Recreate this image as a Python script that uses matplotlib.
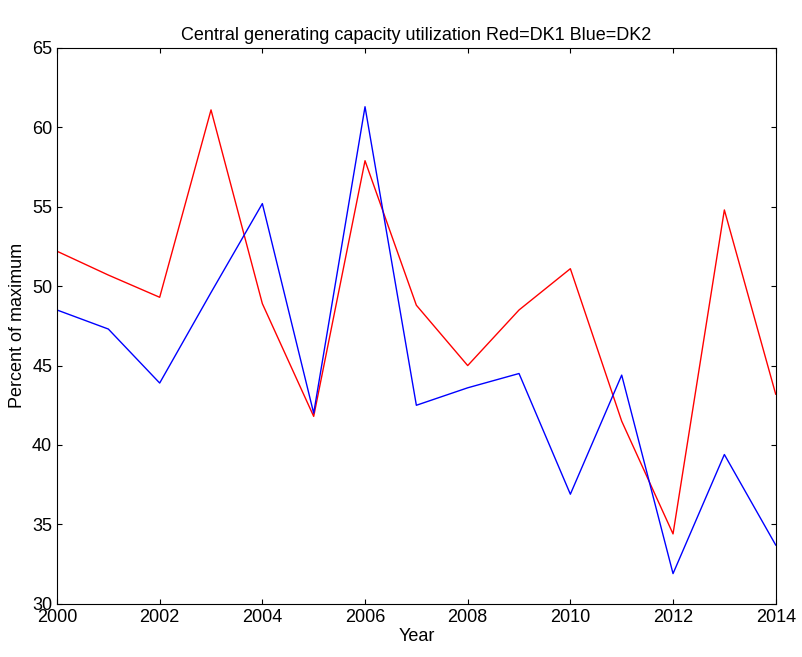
import matplotlib
matplotlib.use('Agg')
import matplotlib.pyplot as plt

years = list(range(2000, 2015))
dk1 = [52.2, 50.7, 49.3, 61.1, 48.9, 41.8, 57.9, 48.8, 45.0, 48.5, 51.1, 41.5, 34.4, 54.8, 43.2]
dk2 = [48.5, 47.3, 43.9, 49.6, 55.2, 42.0, 61.3, 42.5, 43.6, 44.5, 36.9, 44.4, 31.9, 39.4, 33.7]

plt.rcParams['font.family'] = ['Liberation Sans', 'DejaVu Sans']
fig = plt.figure(figsize=(8.03, 6.57), dpi=100)
ax = fig.add_axes([0.071, 0.081, 0.895, 0.846])
ax.plot(years, dk1, color='red', lw=1)
ax.plot(years, dk2, color='blue', lw=1)
ax.set_xlim(2000, 2014)
ax.set_ylim(30, 65)
ax.set_xticks(range(2000, 2015, 2))
ax.set_yticks(range(30, 66, 5))
ax.tick_params(direction='in', top=True, right=True, labelsize=13)
ax.set_xlabel('Year', fontsize=13, labelpad=2)
ax.set_ylabel('Percent of maximum', fontsize=13)
ax.set_title('Central generating capacity utilization Red=DK1 Blue=DK2', fontsize=13)
fig.savefig('out.png')
